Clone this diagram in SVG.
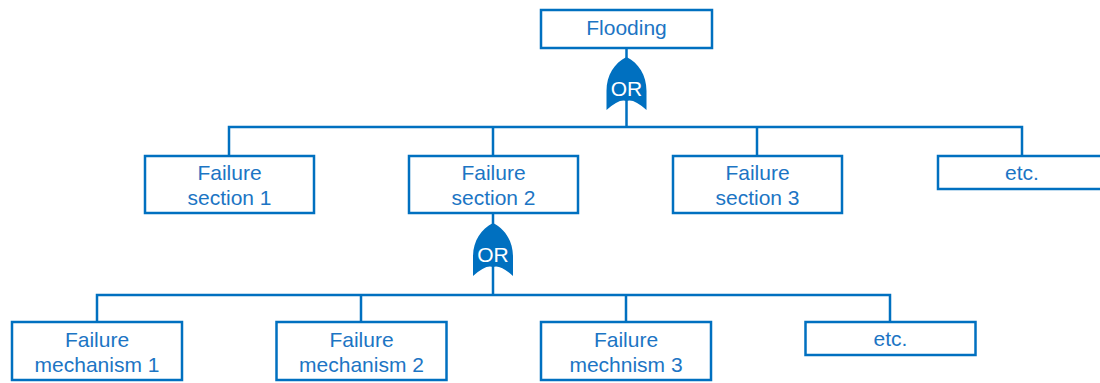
<svg xmlns="http://www.w3.org/2000/svg" width="1100" height="383" viewBox="0 0 1100 383">
<style>
.box{fill:#fff;stroke:#0070C0;stroke-width:2.5}
.ln{fill:none;stroke:#0070C0;stroke-width:2.5}
.gate{fill:#0070C0}
.t{font-family:"Liberation Sans",Arial,sans-serif;font-size:21px;fill:#1C75C4;text-anchor:middle}
.g{font-family:"Liberation Sans",Arial,sans-serif;font-size:21px;fill:#fff;text-anchor:middle}
</style>
<defs>
<path id="orgate" d="M0,0 C12,6 20,18 20,34 L20,53 Q7,41 0,44 Q-7,41 -20,53 L-20,34 C-20,18 -12,6 0,0 Z"/>
</defs>
<g id="connectors">
<path class="ln" d="M626.5,48 V127 M229,155 V127 H1022 V155 M493,127 V155"/>
<path class="ln" d="M757,127 V155"/>
<path class="ln" d="M493,213 V295 M97,322 V295 H890 V322 M361,295 V322 M626,295 V322"/>
</g>
<g id="gate1"><use href="#orgate" class="gate" x="626.5" y="57"/><text class="g" x="626.5" y="96">OR</text></g>
<g id="gate2"><use href="#orgate" class="gate" x="493" y="223"/><text class="g" x="493" y="262">OR</text></g>
<g id="flooding"><rect class="box" x="541" y="10" width="171" height="38"/><text class="t" x="626.5" y="35">Flooding</text></g>
<g id="fs1"><rect class="box" x="145" y="156" width="169" height="57"/><text class="t" x="229.5" y="180">Failure</text><text class="t" x="229.5" y="205">section 1</text></g>
<g id="fs2"><rect class="box" x="409" y="156" width="169" height="57"/><text class="t" x="493.5" y="180">Failure</text><text class="t" x="493.5" y="205">section 2</text></g>
<g id="fs3"><rect class="box" x="673" y="156" width="169" height="57"/><text class="t" x="757.5" y="180">Failure</text><text class="t" x="757.5" y="205">section 3</text></g>
<g id="etc1"><rect class="box" x="938" y="156" width="170" height="33"/><text class="t" x="1022" y="180">etc.</text></g>
<g id="fm1"><rect class="box" x="12" y="322" width="170" height="58"/><text class="t" x="97" y="347">Failure</text><text class="t" x="97" y="372">mechanism 1</text></g>
<g id="fm2"><rect class="box" x="276.5" y="322" width="170" height="58"/><text class="t" x="361.5" y="347">Failure</text><text class="t" x="361.5" y="372">mechanism 2</text></g>
<g id="fm3"><rect class="box" x="541" y="322" width="170" height="58"/><text class="t" x="626" y="347">Failure</text><text class="t" x="626" y="372">mechnism 3</text></g>
<g id="etc2"><rect class="box" x="805.5" y="322" width="170" height="33"/><text class="t" x="890.5" y="346">etc.</text></g>
</svg>
